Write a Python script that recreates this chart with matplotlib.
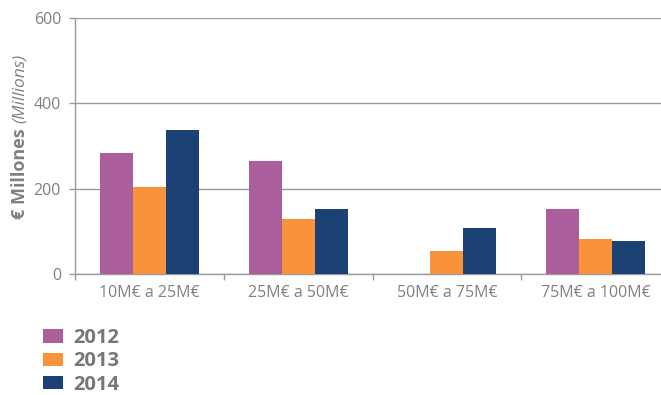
import matplotlib.pyplot as plt
import numpy as np
from matplotlib.ticker import FixedLocator

# Data
categories = ['10M€ a 25M€', '25M€ a 50M€', '50M€ a 75M€', '75M€ a 100M€']
years = ['2012', '2013', '2014']
v2012 = [283, 265, 0, 152]
v2013 = [204, 129, 54, 82]
v2014 = [337, 152, 108, 77]
colors = ['#AA5E9C', '#F8923B', '#1B4175']

grey = '#808080'
plt.rcParams['font.family'] = ['Open Sans', 'DejaVu Sans']

fig = plt.figure(figsize=(6.61, 3.95), dpi=100)
ax = fig.add_axes([75 / 661, 121 / 395, 595 / 661, 256 / 395])

x = np.arange(len(categories))
w = 0.222
bars = []
for i, (vals, c) in enumerate(zip([v2012, v2013, v2014], colors)):
    b = ax.bar(x + (i - 1) * w, vals, w, color=c, label=years[i], zorder=3)
    bars.append(b)

ax.set_xlim(-0.5, 3.5)
ax.set_ylim(0, 600)
ax.set_yticks([0, 200, 400, 600])
ax.grid(axis='y', color='#9a9a9a', linewidth=1.0, zorder=0)

for s in ['top', 'right']:
    ax.spines[s].set_visible(False)
for s in ['left', 'bottom']:
    ax.spines[s].set_color('#9a9a9a')
    ax.spines[s].set_linewidth(1.0)

ax.set_xticks(x)
ax.set_xticklabels(categories)
ax.xaxis.set_minor_locator(FixedLocator(np.arange(-0.5, 4, 1)))
ax.tick_params(axis='x', which='major', length=0, pad=8, labelsize=11.5, labelcolor=grey)
ax.tick_params(axis='x', which='minor', length=4, color='#9a9a9a', width=1)
ax.tick_params(axis='y', length=4, color='#9a9a9a', width=1, pad=6, labelsize=11.5, labelcolor=grey)

# y label: bold part + italic part
fig.text(20 / 661, 1 - 174 / 395, '€ Millones', rotation=90, ha='center', va='center',
         fontsize=13, fontweight='bold', color=grey)
fig.text(20 / 661, 1 - 88 / 395, '(Millions)', rotation=90, ha='center', va='center',
         fontsize=12.5, fontstyle='italic', color=grey)

leg = fig.legend(handles=bars, labels=years, loc='upper left',
                 bbox_to_anchor=(43 / 661, 1 - 328 / 395), frameon=False,
                 handlelength=1.0, handleheight=0.65, handletextpad=0.5,
                 labelspacing=0.17, borderaxespad=0, borderpad=0,
                 prop={'weight': 'bold', 'size': 14.5})
for t in leg.get_texts():
    t.set_color('#777777')

fig.savefig('out.png', dpi=100)
